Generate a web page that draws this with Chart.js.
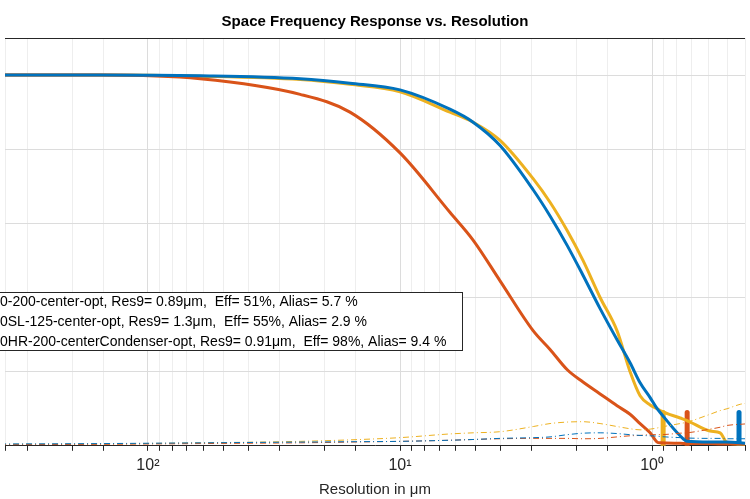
<!DOCTYPE html>
<html>
<head>
<script src="https://cdn.jsdelivr.net/npm/chart.js@4"></script>
<style>
  body { margin: 0; background: #fff; }
  #wrap { width: 750px; height: 499px; }
</style>
</head>
<body>
<div id="wrap"><canvas id="c"></canvas></div>
<script>
// resolution (um) where the curves were read
const resX = [386, 155, 62, 24.9, 15.8, 10, 6.34, 5.13, 4.01, 2.96, 2.54, 2.17, 1.88, 1.608, 1.377, 1.223, 1.116, 1.018, 0.955, 0.929, 0.774, 0.726, 0.589, 0.537, 0.504, 0.447, 0.408];
const blueMtf   = [1, 1, 0.998, 0.99, 0.978, 0.96, 0.908, 0.873, 0.81, 0.69, 0.62, 0.54, 0.46, 0.37, 0.286, 0.224, 0.17, 0.13, 0.1, 0.09, 0.027, 0.012, 0.01, 0.01, 0.01, 0.008, 0.005];
const orangeMtf = [1, 1, 0.99, 0.948, 0.9, 0.79, 0.63, 0.555, 0.445, 0.31, 0.26, 0.205, 0.172, 0.14, 0.108, 0.085, 0.06, 0.035, 0.01, 0.008, 0.007, 0.006, 0.006, 0.005, 0.005, 0.005, 0.005];
const yellowMtf = [1, 1, 0.997, 0.988, 0.975, 0.955, 0.9, 0.873, 0.824, 0.72, 0.657, 0.58, 0.5, 0.4, 0.31, 0.2, 0.135, 0.11, 0.1, 0.095, 0.075, 0.068, 0.04, 0.035, 0.008, 0.004, 0.003];
const blueAlias   = [0.005, 0.006, 0.008, 0.01, 0.011, 0.012, 0.015, 0.017, 0.02, 0.022, 0.024, 0.03, 0.034, 0.035, 0.033, 0.03, 0.028, 0.027, 0.026, 0.025, 0.022, 0.021, 0.02, 0.02, 0.019, 0.019, 0.019];
const orangeAlias = [0.003, 0.004, 0.006, 0.008, 0.01, 0.012, 0.015, 0.017, 0.019, 0.02, 0.02, 0.02, 0.019, 0.02, 0.024, 0.027, 0.028, 0.03, 0.03, 0.03, 0.034, 0.035, 0.045, 0.05, 0.055, 0.058, 0.06];
const yellowAlias = [0.004, 0.005, 0.008, 0.012, 0.016, 0.022, 0.032, 0.035, 0.038, 0.052, 0.06, 0.064, 0.065, 0.06, 0.052, 0.046, 0.043, 0.045, 0.048, 0.05, 0.06, 0.064, 0.085, 0.095, 0.1, 0.112, 0.116];
// Res9 markers: [x, yTop]
const blueMark = [0.452, 0.09];
const orangeMark = [0.726, 0.09];
const yellowMark = [0.904, 0.09];
const legendLines = [
  "0-200-center-opt, Res9= 0.89\u03bcm,  Eff= 51%, Alias= 5.7 %",
  "0SL-125-center-opt, Res9= 1.3\u03bcm,  Eff= 55%, Alias= 2.9 %",
  "0HR-200-centerCondenser-opt, Res9= 0.91\u03bcm,  Eff= 98%, Alias= 9.4 %"
];
const BLUE = "#0072BD", ORANGE = "#D95319", YELLOW = "#EDB120";

const pts = (ys) => resX.map((x, i) => ({ x: x, y: ys[i] }));
const mark = (m) => [{ x: m[0], y: 0 }, { x: m[0], y: m[1] }];
const dashDot = [6, 3, 1, 3];

const datasets = [
  { data: pts(blueAlias), borderColor: BLUE, borderWidth: 1, borderDash: dashDot },
  { data: pts(orangeAlias), borderColor: ORANGE, borderWidth: 1, borderDash: dashDot },
  { data: pts(yellowAlias), borderColor: YELLOW, borderWidth: 1, borderDash: dashDot },
  { data: pts(blueMtf), borderColor: BLUE, borderWidth: 3 },
  { data: pts(orangeMtf), borderColor: ORANGE, borderWidth: 3 },
  { data: pts(yellowMtf), borderColor: YELLOW, borderWidth: 3 },
  { data: mark(blueMark), borderColor: BLUE, borderWidth: 5, borderCapStyle: "round" },
  { data: mark(orangeMark), borderColor: ORANGE, borderWidth: 5, borderCapStyle: "round" },
  { data: mark(yellowMark), borderColor: YELLOW, borderWidth: 5, borderCapStyle: "round" }
];

const extras = {
  id: "extras",
  afterDraw(chart) {
    const { ctx, chartArea: a } = chart;
    ctx.save();
    ctx.strokeStyle = "#262626";
    ctx.lineWidth = 1;
    ctx.beginPath();
    ctx.moveTo(a.left, a.top + 0.5);
    ctx.lineTo(a.right, a.top + 0.5);
    ctx.stroke();
    // legend box
    const bx = -1, by = 292, bw = 463, bh = 58;
    ctx.fillStyle = "#fff";
    ctx.fillRect(bx, by, bw, bh);
    ctx.strokeStyle = "#262626";
    ctx.strokeRect(bx + 0.5, by + 0.5, bw, bh);
    ctx.fillStyle = "#000";
    ctx.font = "14px Arial, 'Liberation Sans', sans-serif";
    ctx.textBaseline = "middle";
    legendLines.forEach((t, i) => ctx.fillText(t, 0, by + 10 + i * 20));
    ctx.restore();
  }
};

new Chart(document.getElementById("c"), {
  type: "line",
  data: { datasets },
  options: {
    responsive: true,
    maintainAspectRatio: false,
    animation: false,
    layout: { padding: 0 },
    elements: { point: { radius: 0 }, line: { cubicInterpolationMode: "monotone" } },
    plugins: {
      legend: { display: false },
      tooltip: { enabled: false },
      title: {
        display: true,
        text: "Space Frequency Response vs. Resolution",
        color: "#000",
        font: { size: 15, weight: "bold", family: "Arial, 'Liberation Sans', sans-serif" },
        padding: { top: 13, bottom: 7 }
      }
    },
    scales: {
      x: {
        type: "logarithmic",
        reverse: true,
        min: 0.428,
        max: 369,
        border: { color: "#262626" },
        grid: {
          color: (c) => {
            const l = Math.log10(c.tick ? c.tick.value : 1);
            return Math.abs(l - Math.round(l)) < 1e-6 ? "#dcdcdc" : "#eeeeee";
          },
          tickLength: 5,
          tickColor: "#262626"
        },
        ticks: {
          autoSkip: false,
          maxRotation: 0,
          padding: 5,
          color: "#262626",
          font: { size: 16, family: "Arial, 'Liberation Sans', sans-serif" },
          callback: (v) => ({ 100: "10\u00b2", 10: "10\u00b9", 1: "10\u2070" }[v] || "")
        },
        title: {
          display: true,
          text: "Resolution in \u03bcm",
          color: "#262626",
          font: { size: 15, family: "Arial, 'Liberation Sans', sans-serif" },
          padding: { top: 1, bottom: 0 }
        }
      },
      y: {
        min: 0,
        max: 1.1,
        ticks: { display: false, stepSize: 0.2 },
        border: { display: false },
        grid: { color: "#dcdcdc", drawTicks: false }
      }
    }
  },
  plugins: [extras]
});
</script>
</body>
</html>
